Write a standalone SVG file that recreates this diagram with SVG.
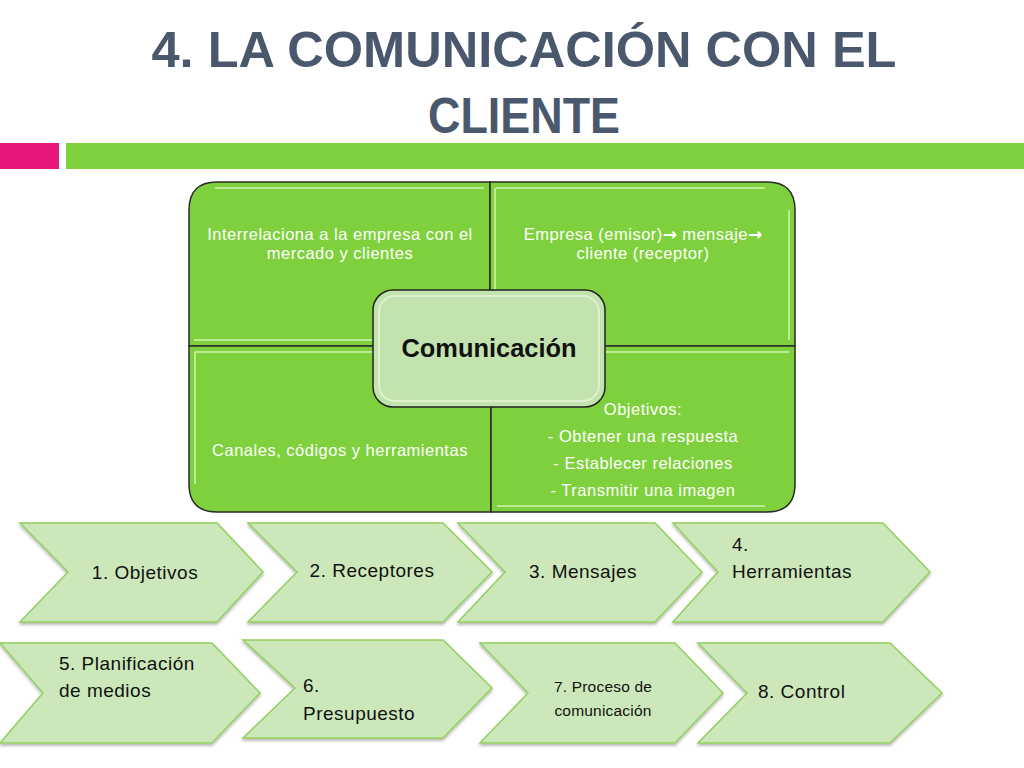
<svg xmlns="http://www.w3.org/2000/svg" width="1024" height="768" viewBox="0 0 1024 768">
<defs>
<style>
.title{font-family:"Liberation Sans","DejaVu Sans",sans-serif;font-weight:bold;font-size:50px;fill:#4A586E;text-anchor:middle}
.q{fill:#7ED13C;stroke:#2A2A2A;stroke-width:1.5}
.hl{fill:none;stroke:#C8EFA6;stroke-width:2;opacity:0.85}
.qt{font-family:"Liberation Sans","DejaVu Sans",sans-serif;font-size:16.5px;letter-spacing:0.5px;fill:#FFFFFF;text-anchor:middle}
.arr{font-family:"DejaVu Sans",sans-serif;font-weight:bold;font-size:17px;letter-spacing:0}
.ch{fill:#CCE8BA;stroke:#92CF5E;stroke-width:1.5;filter:url(#sh)}
.ct{font-family:"Liberation Sans","DejaVu Sans",sans-serif;font-size:19px;letter-spacing:0.5px;fill:#111111}
.ct.sm{font-size:15.5px;letter-spacing:0.2px}
</style>
<filter id="sh" x="-10%" y="-10%" width="120%" height="130%">
<feDropShadow dx="0" dy="2" stdDeviation="1.5" flood-color="#000" flood-opacity="0.3"/>
</filter>
</defs>
<rect width="1024" height="768" fill="#FFFFFF"/>
<g id="title">
<text class="title" x="524" y="67" textLength="745" lengthAdjust="spacingAndGlyphs">4. LA COMUNICACIÓN CON EL</text>
<text class="title" x="524" y="133" textLength="192" lengthAdjust="spacingAndGlyphs">CLIENTE</text>
</g>
<g id="bars">
<rect x="0" y="143" width="59" height="26" fill="#E8177B"/>
<rect x="66" y="143" width="958" height="26" fill="#7ED13C"/>
</g>
<g id="matrix">
<g id="q-tl">
<path class="q" d="M189,346 V210 Q189,182 217,182 H490 V346 Z"/>
<path class="hl" d="M215,188 H484 M194,340 H484"/>
<text class="qt" x="340" y="240">Interrelaciona a la empresa con el</text>
<text class="qt" x="340" y="259">mercado y clientes</text>
</g>
<g id="q-tr">
<path class="q" d="M490,182 H767 Q795,182 795,210 V346 H490 Z"/>
<path class="hl" d="M496,188 H765 M495,188 V340 M789,210 V340"/>
<text class="qt" x="643" y="240">Empresa (emisor)<tspan class="arr">→</tspan> mensaje<tspan class="arr">→</tspan></text>
<text class="qt" x="643" y="259">cliente (receptor)</text>
</g>
<g id="q-bl">
<path class="q" d="M189,346 H491 V512 H217 Q189,512 189,484 Z"/>
<path class="hl" d="M195,352 V484 M195,352 H485"/>
<text class="qt" x="340" y="456">Canales, códigos y herramientas</text>
</g>
<g id="q-br">
<path class="q" d="M491,346 H795 V484 Q795,512 767,512 H491 Z"/>
<path class="hl" d="M497,352 H789 M497,506 H765"/>
<text class="qt" x="643" y="415">Objetivos:</text>
<text class="qt" x="643" y="442">- Obtener una respuesta</text>
<text class="qt" x="643" y="469">- Establecer relaciones</text>
<text class="qt" x="643" y="496">- Transmitir una imagen</text>
</g>
<g id="center">
<rect x="373" y="290" width="232" height="117" rx="20" fill="#C3E3AE" stroke="#222" stroke-width="1.5"/>
<rect x="379" y="296" width="220" height="105" rx="16" fill="none" stroke="#E3F4D7" stroke-width="2" opacity="0.8"/>
<text x="489" y="357" font-family="'Liberation Sans','DejaVu Sans',sans-serif" font-size="25" font-weight="bold" fill="#111" text-anchor="middle" textLength="175" lengthAdjust="spacingAndGlyphs">Comunicación</text>
</g>
</g>
<g id="connectors"></g>
<g id="step1">
<polygon class="ch" points="20,523 217,523 263,572 217,622 20,622 68,572"/>
<text class="ct" x="145" y="579" text-anchor="middle">1. Objetivos</text>
</g>
<g id="step2">
<polygon class="ch" points="248,523 443,523 492,572 443,622 248,622 297,572"/>
<text class="ct" x="372" y="577" text-anchor="middle">2. Receptores</text>
</g>
<g id="step3">
<polygon class="ch" points="458,523 655,523 702,572 655,622 458,622 505,572"/>
<text class="ct" x="583" y="578" text-anchor="middle">3. Mensajes</text>
</g>
<g id="step4">
<polygon class="ch" points="673,523 883,523 930,572 883,622 673,622 718,572"/>
<text class="ct" x="732" y="551">4.</text>
<text class="ct" x="732" y="578">Herramientas</text>
</g>
<g id="step5">
<polygon class="ch" points="0,643 212,643 260,693 212,743 0,743 43,693"/>
<text class="ct" x="59" y="670">5. Planificación</text>
<text class="ct" x="59" y="697">de medios</text>
</g>
<g id="step6">
<polygon class="ch" points="243,640 443,640 492,688 443,738 243,738 295,688"/>
<text class="ct" x="303" y="692">6.</text>
<text class="ct" x="303" y="720">Presupuesto</text>
</g>
<g id="step7">
<polygon class="ch" points="480,643 675,643 723,693 675,743 480,743 528,693"/>
<text class="ct sm" x="603" y="692" text-anchor="middle">7. Proceso de</text>
<text class="ct sm" x="603" y="716" text-anchor="middle">comunicación</text>
</g>
<g id="step8">
<polygon class="ch" points="698,643 890,643 942,693 890,743 698,743 747,693"/>
<text class="ct" x="758" y="698">8. Control</text>
</g>
</svg>
